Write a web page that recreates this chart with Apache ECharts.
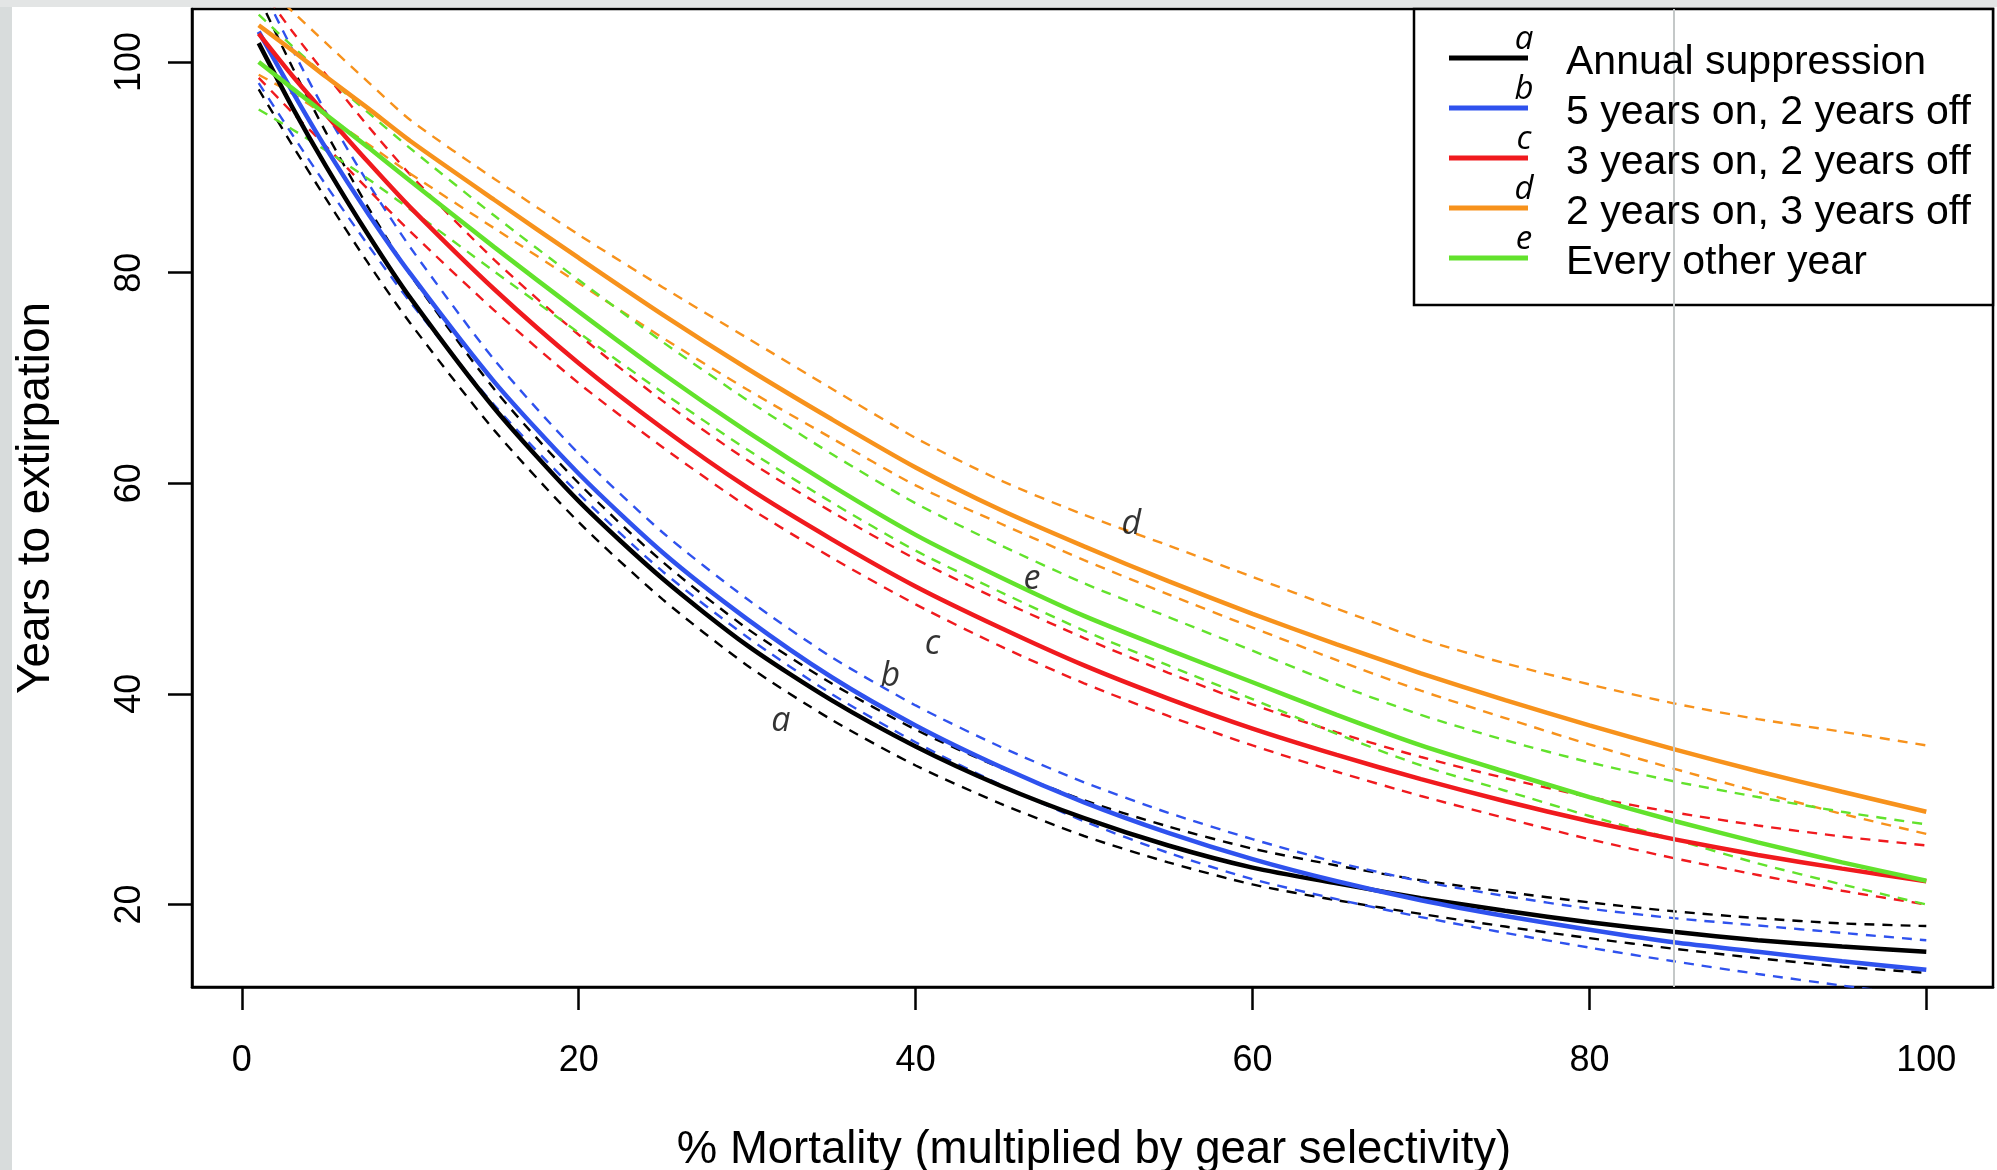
<!DOCTYPE html>
<html><head><meta charset="utf-8">
<script src="https://cdn.jsdelivr.net/npm/echarts@6/dist/echarts.min.js"></script>
<style>html,body{margin:0;padding:0;background:#fff}#c{width:1997px;height:1170px}</style>
</head><body><div id="c"></div>
<script>
// % mortality (x)
const mortality = [1, 3, 5, 7.5, 10, 15, 20, 25, 30, 35, 40, 45, 50, 55, 60, 65, 70, 75, 80, 85, 90, 95, 100];

// a: Annual suppression
const annualMid = [101.8, 95.7, 90.1, 83.6, 77.6, 67.1, 58.3, 50.9, 44.6, 39.4, 35.0, 31.3, 28.2, 25.6, 23.5, 22.0, 20.6, 19.4, 18.3, 17.4, 16.6, 16.0, 15.5];
const annualHi  = [106.2, 99.5, 93.3, 86.2, 79.8, 68.9, 60.0, 52.5, 46.2, 41.0, 36.6, 33.0, 29.9, 27.4, 25.3, 23.7, 22.3, 21.2, 20.2, 19.35, 18.7, 18.2, 17.95];
const annualLo  = [97.4, 92.1, 87.0, 80.9, 75.2, 65.0, 56.3, 48.95, 42.7, 37.55, 33.2, 29.6, 26.5, 24.0, 21.9, 20.4, 19.1, 17.9, 16.8, 15.8, 14.9, 14.1, 13.5];
// b: 5 years on, 2 years off
const fiveTwoMid = [102.9, 97.2, 91.8, 85.6, 79.9, 69.6, 60.9, 53.4, 47.1, 41.6, 37.0, 33.1, 29.7, 26.8, 24.3, 22.2, 20.4, 18.9, 17.6, 16.4, 15.5, 14.6, 13.8];
const fiveTwoHi  = [107.6, 101.2, 95.2, 88.5, 82.4, 71.7, 62.8, 55.3, 49.0, 43.5, 38.9, 35.0, 31.6, 28.7, 26.2, 24.0, 22.2, 20.8, 19.6, 18.7, 18.0, 17.3, 16.6];
const fiveTwoLo  = [98.0, 93.1, 88.3, 82.6, 77.2, 67.4, 59.0, 51.6, 45.4, 40.0, 35.4, 31.4, 27.9, 24.9, 22.4, 20.5, 18.8, 17.3, 15.9, 14.6, 13.4, 12.3, 11.3];
// c: 3 years on, 2 years off
const threeTwoMid = [102.7, 98.7, 95.0, 90.5, 86.2, 78.4, 71.4, 65.2, 59.6, 54.7, 50.2, 46.3, 42.7, 39.55, 36.7, 34.2, 31.9, 29.8, 27.9, 26.2, 24.7, 23.4, 22.2];
const threeTwoHi  = [107.3, 102.9, 98.8, 93.9, 89.3, 81.2, 74.1, 67.8, 62.2, 57.3, 52.8, 48.9, 45.3, 42.0, 39.0, 36.35, 34.0, 32.0, 30.2, 28.75, 27.5, 26.45, 25.6];
const threeTwoLo  = [98.5, 95.2, 92.0, 87.9, 83.9, 76.4, 69.5, 63.4, 57.8, 52.95, 48.5, 44.55, 41.0, 37.9, 35.1, 32.6, 30.3, 28.2, 26.2, 24.4, 22.8, 21.3, 20.0];
// d: 2 years on, 3 years off
const twoThreeMid = [103.5, 101.1, 98.6, 95.6, 92.5, 86.9, 81.4, 76.0, 70.9, 66.1, 61.5, 57.5, 54.0, 50.7, 47.6, 44.7, 41.95, 39.4, 37.0, 34.75, 32.65, 30.7, 28.8];
const twoThreeHi  = [107.8, 104.8, 101.8, 98.1, 94.5, 88.9, 83.6, 78.6, 73.8, 69.0, 64.3, 60.3, 57.0, 54.1, 51.1, 48.1, 45.2, 42.9, 40.9, 39.1, 37.6, 36.4, 35.1];
const twoThreeLo  = [98.8, 97.0, 94.9, 92.2, 89.4, 84.2, 79.0, 73.8, 68.9, 64.3, 59.8, 56.2, 52.7, 49.45, 46.3, 43.2, 40.3, 37.7, 35.2, 32.9, 30.7, 28.6, 26.7];
// e: Every other year
const everyOtherMid = [100.0, 97.5, 95.0, 91.9, 88.7, 82.4, 76.3, 70.4, 64.9, 59.8, 55.1, 51.1, 47.4, 44.2, 41.1, 38.0, 35.1, 32.6, 30.2, 27.95, 25.9, 24.0, 22.25];
const everyOtherHi  = [104.5, 101.5, 98.6, 95.2, 91.8, 85.4, 79.3, 73.4, 67.9, 62.8, 58.1, 54.15, 50.5, 47.3, 44.1, 40.9, 38.0, 35.6, 33.5, 31.7, 30.2, 28.8, 27.6];
const everyOtherLo  = [95.5, 93.6, 91.6, 88.9, 86.0, 80.1, 74.3, 68.6, 63.2, 58.2, 53.6, 49.7, 46.0, 42.7, 39.5, 36.2, 33.2, 30.8, 28.4, 26.2, 23.9, 21.9, 20.0];

const seriesNames = ['Annual suppression', '5 years on, 2 years off', '3 years on, 2 years off', '2 years on, 3 years off', 'Every other year'];
const seriesLetters = ['a', 'b', 'c', 'd', 'e'];
const seriesColors = ['#000000', '#2f52ee', '#f01a1e', '#f7921c', '#62e22c'];

const xTicks = [0, 20, 40, 60, 80, 100];
const yTicks = [20, 40, 60, 80, 100];
const refLineX = 85;

// curve annotation letters (data coordinates)
const annotLetters = ['a', 'b', 'c', 'd', 'e'];
const annotX = [32.0, 38.5, 41.0, 52.8, 46.9];
const annotY = [37.4, 41.7, 44.7, 56.1, 50.9];

const groups = [
  [annualMid, annualHi, annualLo],
  [fiveTwoMid, fiveTwoHi, fiveTwoLo],
  [threeTwoMid, threeTwoHi, threeTwoLo],
  [twoThreeMid, twoThreeHi, twoThreeLo],
  [everyOtherMid, everyOtherHi, everyOtherLo]
];
const toPts = arr => mortality.map((x, i) => [x, arr[i]]);

const FONT = 'Liberation Sans, Arial, sans-serif';
const series = [];
groups.forEach((g, k) => {
  [1, 2].forEach(j => {
    series.push({
      name: seriesNames[k] + (j === 1 ? ' upper' : ' lower'),
      type: 'line', data: toPts(g[j]), showSymbol: false, symbol: 'none',
      smooth: 0.25, clip: true, z: 2,
      lineStyle: { color: seriesColors[k], width: 2.4, type: [10, 8] },
      itemStyle: { color: seriesColors[k] }, silent: true
    });
  });
});
groups.forEach((g, k) => {
  const s = {
    name: seriesNames[k], type: 'line', data: toPts(g[0]), showSymbol: false, symbol: 'none',
    smooth: 0.25, clip: true, z: 3,
    lineStyle: { color: seriesColors[k], width: 4.5 },
    itemStyle: { color: seriesColors[k] }, silent: true
  };
  if (k === 0) {
    s.markLine = {
      silent: true, symbol: 'none', label: { show: false }, animation: false,
      lineStyle: { color: '#c4c8c8', width: 2, type: 'solid' },
      data: [{ xAxis: refLineX }]
    };
  }
  series.push(s);
});
series.push({
  name: 'letters', type: 'scatter', symbolSize: 0, z: 4, silent: true,
  data: annotX.map((x, i) => [x, annotY[i], annotLetters[i]]),
  label: {
    show: true, position: 'inside', formatter: p => p.data[2],
    fontFamily: 'Open Sans, DejaVu Sans, sans-serif', fontStyle: 'italic', fontSize: 34, color: '#000'
  }
});

const graphic = [
  { type: 'rect', shape: { x: 0, y: 0, width: 12, height: 1170 }, style: { fill: '#d8dcdc' }, z: 0 },
  { type: 'rect', shape: { x: 0, y: 0, width: 1997, height: 7 }, style: { fill: '#e3e5e5' }, z: 0 },
  { type: 'rect', shape: { x: 1414, y: 9, width: 579, height: 296 }, style: { fill: '#ffffff', stroke: '#000', lineWidth: 2.5 }, z: 5 },
  { type: 'text', x: 1094, y: 1150, z: 6, style: { text: '% Mortality (multiplied by gear selectivity)', font: '45.5px ' + FONT, fill: '#000', align: 'center', verticalAlign: 'middle' } },
  { type: 'text', x: 36, y: 498, rotation: Math.PI / 2, z: 6, style: { text: 'Years to extirpation', font: '46px ' + FONT, fill: '#000', align: 'center', verticalAlign: 'middle' } }
];
seriesLetters.forEach((l, i) => {
  graphic.push({ type: 'text', x: 1524, y: 40 + 50 * i, z: 7,
    style: { text: l, font: 'italic 33px Open Sans, DejaVu Sans, sans-serif', fill: '#000', align: 'center', verticalAlign: 'middle' } });
});

const chart = echarts.init(document.getElementById('c'), null, { renderer: 'canvas' });
chart.setOption({
  animation: false,
  backgroundColor: '#ffffff',
  grid: { left: 192, right: 4, top: 9, bottom: 183, show: true, borderColor: '#000', borderWidth: 2.5, backgroundColor: 'transparent' },
  xAxis: {
    type: 'value', min: -2.96, max: 103.96,
    axisLine: { show: true, onZero: false, lineStyle: { color: '#000', width: 2.5 } },
    axisTick: { show: true, length: 23, lineStyle: { color: '#000', width: 2.5 }, customValues: xTicks },
    axisLabel: { customValues: xTicks, margin: 56, fontSize: 36, lineHeight: 36, color: '#000', fontFamily: FONT },
    splitLine: { show: false }
  },
  yAxis: {
    type: 'value', min: 12.16, max: 105.04,
    axisLine: { show: true, onZero: false, lineStyle: { color: '#000', width: 2.5 } },
    axisTick: { show: true, length: 24, lineStyle: { color: '#000', width: 2.5 }, customValues: yTicks },
    axisLabel: { customValues: yTicks, rotate: 90, margin: 44, fontSize: 36, lineHeight: 36, color: '#000', fontFamily: FONT },
    splitLine: { show: false }
  },
  legend: {
    data: seriesNames, orient: 'vertical', left: 1414, top: 9, z: 6,
    padding: [24, 10, 22, 35], itemWidth: 79, itemHeight: 5, itemGap: 0, icon: 'rect',
    selectedMode: false,
    formatter: '{t|{name}}',
    textStyle: {
      fontSize: 41, lineHeight: 49, color: '#000', fontFamily: FONT, padding: [0, 0, 0, 33],
      rich: { t: { fontSize: 41, fontFamily: FONT, color: '#000', lineHeight: 39, padding: [9, 0, 0, 0] } }
    }
  },
  graphic: graphic,
  series: series
});
</script></body></html>
